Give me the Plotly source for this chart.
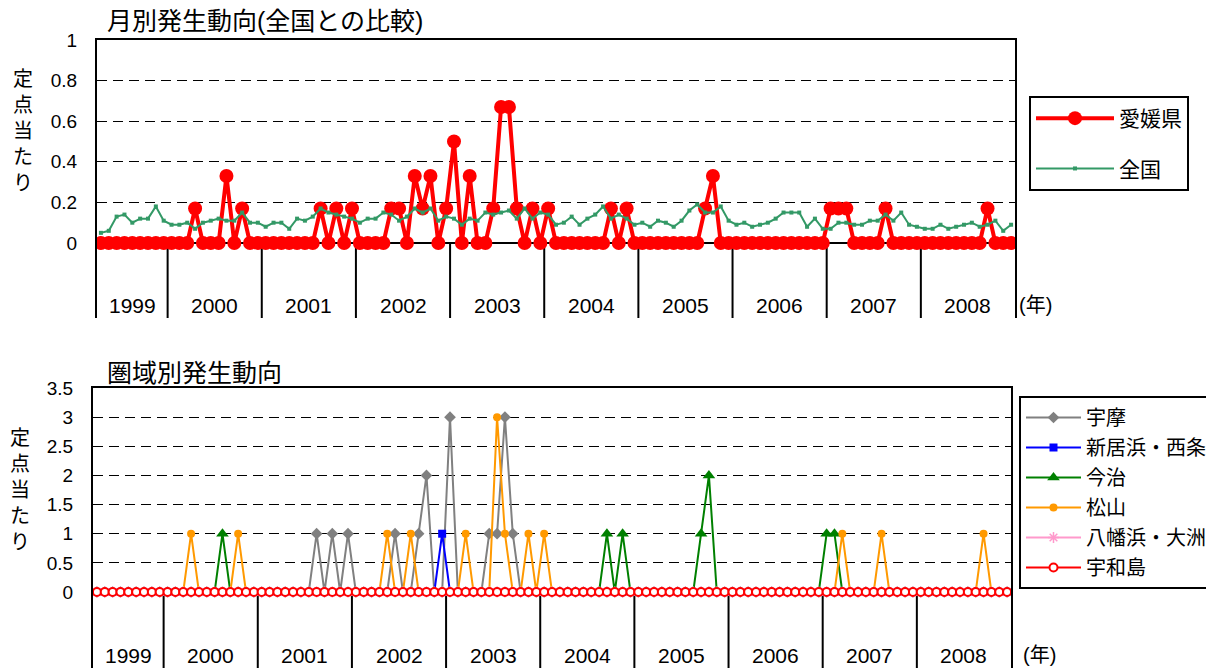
import plotly.graph_objects as go

W, H = 1214, 670
OX, OY = 8, 8   # page offset of the plot div inside the browser window
FONT = "Liberation Sans, Noto Sans CJK JP, sans-serif"

# ---- data (monthly, Apr 1999 .. Dec 2008) ----
years = [1999, 2000, 2001, 2002, 2003, 2004, 2005, 2006, 2007, 2008]
months_per_year = [9, 12, 12, 12, 12, 12, 12, 12, 12, 12]

ehime = [
    0, 0, 0, 0, 0, 0, 0, 0, 0,
    0, 0, 0, 0.17, 0, 0, 0, 0.33, 0, 0.17, 0, 0,
    0, 0, 0, 0, 0, 0, 0, 0.17, 0, 0.17, 0, 0.17,
    0, 0, 0, 0, 0.17, 0.17, 0, 0.33, 0.17, 0.33, 0, 0.17,
    0.5, 0, 0.33, 0, 0, 0.17, 0.67, 0.67, 0.17, 0, 0.17, 0,
    0.17, 0, 0, 0, 0, 0, 0, 0, 0.17, 0, 0.17, 0,
    0, 0, 0, 0, 0, 0, 0, 0, 0.17, 0.33, 0, 0,
    0, 0, 0, 0, 0, 0, 0, 0, 0, 0, 0, 0,
    0.17, 0.17, 0.17, 0, 0, 0, 0, 0.17, 0, 0, 0, 0,
    0, 0, 0, 0, 0, 0, 0, 0, 0.17, 0, 0, 0,
]

zenkoku = [
    0.05, 0.06, 0.13, 0.14, 0.10, 0.12, 0.12, 0.18, 0.11,
    0.09, 0.09, 0.10, 0.07, 0.10, 0.11, 0.12, 0.11, 0.11, 0.15, 0.10, 0.10,
    0.08, 0.10, 0.10, 0.07, 0.12, 0.11, 0.13, 0.17, 0.15, 0.14, 0.13, 0.12,
    0.10, 0.12, 0.12, 0.15, 0.14, 0.11, 0.13, 0.17, 0.15, 0.17, 0.11, 0.13,
    0.12, 0.09, 0.12, 0.11, 0.15, 0.14, 0.15, 0.16, 0.12, 0.17, 0.12, 0.15,
    0.14, 0.09, 0.10, 0.13, 0.09, 0.12, 0.14, 0.18, 0.12, 0.14, 0.12, 0.09,
    0.10, 0.08, 0.11, 0.10, 0.08, 0.11, 0.16, 0.19, 0.15, 0.15, 0.18, 0.11,
    0.09, 0.10, 0.08, 0.09, 0.10, 0.12, 0.15, 0.15, 0.15, 0.08, 0.12, 0.07,
    0.07, 0.10, 0.10, 0.09, 0.09, 0.11, 0.11, 0.14, 0.11, 0.15, 0.09, 0.08,
    0.07, 0.07, 0.09, 0.07, 0.08, 0.09, 0.10, 0.08, 0.09, 0.11, 0.06, 0.09,
]

uma = [
    0, 0, 0, 0, 0, 0, 0, 0, 0,
    0, 0, 0, 0, 0, 0, 0, 0, 0, 0, 0, 0,
    0, 0, 0, 0, 0, 0, 0, 1, 0, 1, 0, 1,
    0, 0, 0, 0, 0, 1, 0, 0, 1, 2, 0, 0,
    3, 0, 0, 0, 0, 1, 1, 3, 1, 0, 0, 0,
    0, 0, 0, 0, 0, 0, 0, 0, 0, 0, 0, 0,
    0, 0, 0, 0, 0, 0, 0, 0, 0, 0, 0, 0,
    0, 0, 0, 0, 0, 0, 0, 0, 0, 0, 0, 0,
    0, 0, 0, 0, 0, 0, 0, 0, 0, 0, 0, 0,
    0, 0, 0, 0, 0, 0, 0, 0, 0, 0, 0, 0,
]
niihama_saijo = [
    0, 0, 0, 0, 0, 0, 0, 0, 0,
    0, 0, 0, 0, 0, 0, 0, 0, 0, 0, 0, 0,
    0, 0, 0, 0, 0, 0, 0, 0, 0, 0, 0, 0,
    0, 0, 0, 0, 0, 0, 0, 0, 0, 0, 0, 1,
    0, 0, 0, 0, 0, 0, 0, 0, 0, 0, 0, 0,
    0, 0, 0, 0, 0, 0, 0, 0, 0, 0, 0, 0,
    0, 0, 0, 0, 0, 0, 0, 0, 0, 0, 0, 0,
    0, 0, 0, 0, 0, 0, 0, 0, 0, 0, 0, 0,
    0, 0, 0, 0, 0, 0, 0, 0, 0, 0, 0, 0,
    0, 0, 0, 0, 0, 0, 0, 0, 0, 0, 0, 0,
]
imabari = [
    0, 0, 0, 0, 0, 0, 0, 0, 0,
    0, 0, 0, 0, 0, 0, 0, 1, 0, 0, 0, 0,
    0, 0, 0, 0, 0, 0, 0, 0, 0, 0, 0, 0,
    0, 0, 0, 0, 0, 0, 0, 0, 0, 0, 0, 0,
    0, 0, 0, 0, 0, 0, 0, 0, 0, 0, 0, 0,
    0, 0, 0, 0, 0, 0, 0, 0, 1, 0, 1, 0,
    0, 0, 0, 0, 0, 0, 0, 0, 1, 2, 0, 0,
    0, 0, 0, 0, 0, 0, 0, 0, 0, 0, 0, 0,
    1, 1, 0, 0, 0, 0, 0, 0, 0, 0, 0, 0,
    0, 0, 0, 0, 0, 0, 0, 0, 0, 0, 0, 0,
]
matsuyama = [
    0, 0, 0, 0, 0, 0, 0, 0, 0,
    0, 0, 0, 1, 0, 0, 0, 0, 0, 1, 0, 0,
    0, 0, 0, 0, 0, 0, 0, 0, 0, 0, 0, 0,
    0, 0, 0, 0, 1, 0, 0, 1, 0, 0, 0, 0,
    0, 0, 1, 0, 0, 0, 3, 1, 0, 0, 1, 0,
    1, 0, 0, 0, 0, 0, 0, 0, 0, 0, 0, 0,
    0, 0, 0, 0, 0, 0, 0, 0, 0, 0, 0, 0,
    0, 0, 0, 0, 0, 0, 0, 0, 0, 0, 0, 0,
    0, 0, 1, 0, 0, 0, 0, 1, 0, 0, 0, 0,
    0, 0, 0, 0, 0, 0, 0, 0, 1, 0, 0, 0,
]
yawatahama_ozu = [
    0, 0, 0, 0, 0, 0, 0, 0, 0,
    0, 0, 0, 0, 0, 0, 0, 0, 0, 0, 0, 0,
    0, 0, 0, 0, 0, 0, 0, 0, 0, 0, 0, 0,
    0, 0, 0, 0, 0, 0, 0, 0, 0, 0, 0, 0,
    0, 0, 0, 0, 0, 0, 0, 0, 0, 0, 0, 0,
    0, 0, 0, 0, 0, 0, 0, 0, 0, 0, 0, 0,
    0, 0, 0, 0, 0, 0, 0, 0, 0, 0, 0, 0,
    0, 0, 0, 0, 0, 0, 0, 0, 0, 0, 0, 0,
    0, 0, 0, 0, 0, 0, 0, 0, 0, 0, 0, 0,
    0, 0, 0, 0, 0, 0, 0, 0, 0, 0, 0, 0,
]
uwajima = [
    0, 0, 0, 0, 0, 0, 0, 0, 0,
    0, 0, 0, 0, 0, 0, 0, 0, 0, 0, 0, 0,
    0, 0, 0, 0, 0, 0, 0, 0, 0, 0, 0, 0,
    0, 0, 0, 0, 0, 0, 0, 0, 0, 0, 0, 0,
    0, 0, 0, 0, 0, 0, 0, 0, 0, 0, 0, 0,
    0, 0, 0, 0, 0, 0, 0, 0, 0, 0, 0, 0,
    0, 0, 0, 0, 0, 0, 0, 0, 0, 0, 0, 0,
    0, 0, 0, 0, 0, 0, 0, 0, 0, 0, 0, 0,
    0, 0, 0, 0, 0, 0, 0, 0, 0, 0, 0, 0,
    0, 0, 0, 0, 0, 0, 0, 0, 0, 0, 0, 0,
]

top_ticks = [0, 0.2, 0.4, 0.6, 0.8, 1]
top_ticktext = ["0", "0.2", "0.4", "0.6", "0.8", "1"]
bot_ticks = [0, 0.5, 1, 1.5, 2, 2.5, 3, 3.5]
bot_ticktext = ["0", "0.5", "1", "1.5", "2", "2.5", "3", "3.5"]

n = len(ehime)
x = list(range(n))


def px(v):
    return (v - OX) / W


def py(v):
    return 1 - (v - OY) / H


# ---- figure ----
fig = go.Figure()

fig.add_trace(go.Scatter(
    x=x, y=ehime, name="愛媛県", mode="lines+markers",
    line=dict(color="#FF0000", width=4),
    marker=dict(symbol="circle", size=14, color="#FF0000"),
    xaxis="x", yaxis="y", legend="legend", legendgroup="a"))
fig.add_trace(go.Scatter(
    x=x, y=zenkoku, name="全国", mode="lines+markers",
    line=dict(color="#339966", width=2),
    marker=dict(symbol="square", size=4, color="#339966"),
    xaxis="x", yaxis="y", legend="legend", legendgroup="b"))

bottom = [
    ("宇摩", uma, "#808080", dict(symbol="diamond", size=9, color="#808080")),
    ("新居浜・西条", niihama_saijo, "#0000FF", dict(symbol="square", size=8, color="#0000FF")),
    ("今治", imabari, "#008000", dict(symbol="triangle-up", size=11, color="#008000")),
    ("松山", matsuyama, "#FF9900", dict(symbol="circle", size=8, color="#FF9900")),
    ("八幡浜・大洲", yawatahama_ozu, "#FF99CC",
     dict(symbol="asterisk-open", size=9, color="#FF99CC", line=dict(color="#FF99CC", width=1.5))),
    ("宇和島", uwajima, "#FF0000",
     dict(symbol="circle", size=8, color="white", line=dict(color="#FF0000", width=2))),
]
for i, (name, vals, col, mk) in enumerate(bottom):
    fig.add_trace(go.Scatter(
        x=x, y=vals, name=name, mode="lines+markers",
        line=dict(color=col, width=2), marker=mk,
        xaxis="x2", yaxis="y2", legend="legend2", legendgroup="g%d" % i))

# ---- geometry (reference pixels) ----
TOP = dict(x0=97, x1=1015, ytop=40, ybot=318, yzero=243)
BOT = dict(x0=93, x1=1011, ytop=388, ybot=668, yzero=592)

top_ymax = 1.0
top_ymin = -(TOP["ybot"] - TOP["yzero"]) / (TOP["yzero"] - TOP["ytop"]) * top_ymax
bot_ymax = 3.5
bot_ymin = -(BOT["ybot"] - BOT["yzero"]) / (BOT["yzero"] - BOT["ytop"]) * bot_ymax

grid_dash = "10px,6px"
common_y = dict(showline=True, mirror=True, linecolor="black", linewidth=2,
                showgrid=True, gridcolor="black", gridwidth=1, griddash=grid_dash,
                zeroline=False, ticks="", ticklabelstandoff=14, automargin=False,
                tickfont=dict(size=19, color="black", family=FONT), fixedrange=True)
common_x = dict(range=[-0.5, n - 0.5], side="top", showline=True, linecolor="black",
                linewidth=2, showgrid=False, zeroline=False, showticklabels=False,
                ticks="", fixedrange=True, automargin=False)

fig.update_layout(
    template="none",
    width=W, height=H,
    margin=dict(l=0, r=0, t=0, b=0, pad=0, autoexpand=False),
    paper_bgcolor="white", plot_bgcolor="white",
    font=dict(family=FONT, color="black"),
    xaxis=dict(domain=[px(TOP["x0"]), px(TOP["x1"])], anchor="y", **common_x),
    yaxis=dict(domain=[py(TOP["ybot"]), py(TOP["ytop"])], anchor="x",
               range=[top_ymin, top_ymax], tickvals=top_ticks, ticktext=top_ticktext, **common_y),
    xaxis2=dict(domain=[px(BOT["x0"]), px(BOT["x1"])], anchor="y2", **common_x),
    yaxis2=dict(domain=[py(BOT["ybot"]), py(BOT["ytop"])], anchor="x2",
                range=[bot_ymin, bot_ymax], tickvals=bot_ticks, ticktext=bot_ticktext, **common_y),
    legend=dict(x=px(1029), y=py(96), xanchor="left", yanchor="top",
                bordercolor="black", borderwidth=2, bgcolor="white",
                font=dict(size=21, family=FONT), tracegroupgap=20, itemwidth=78,
                traceorder="grouped"),
    legend2=dict(x=px(1019), y=py(396), xanchor="left", yanchor="top",
                 bordercolor="black", borderwidth=2, bgcolor="white",
                 font=dict(size=20, family=FONT), tracegroupgap=1, itemwidth=55,
                 traceorder="grouped"),
    showlegend=True,
)

# ---- year separators, zero lines, year labels ----
shapes = []
annotations = []
starts = []
s = 0
for m in months_per_year:
    starts.append(s)
    s += m
ends = starts[1:] + [n]

for xa, ya, ymin in (("x", "y", top_ymin), ("x2", "y2", bot_ymin)):
    shapes.append(dict(type="line", xref=xa, yref=ya, x0=-0.5, x1=n - 0.5, y0=0, y1=0,
                       line=dict(color="black", width=2), layer="below"))
    for st in starts[1:]:
        shapes.append(dict(type="line", xref=xa, yref=ya, x0=st - 0.5, x1=st - 0.5,
                           y0=ymin, y1=0, line=dict(color="black", width=2), layer="below"))

top_label_y = -(305 - TOP["yzero"]) / (TOP["yzero"] - TOP["ytop"]) * top_ymax
bot_label_y = -(655 - BOT["yzero"]) / (BOT["yzero"] - BOT["ytop"]) * bot_ymax
for yr, st, en in zip(years, starts, ends):
    cx = (st + en) / 2 - 0.5
    annotations.append(dict(x=cx, y=top_label_y, xref="x", yref="y", text=str(yr),
                            xanchor="center", yanchor="middle",
                            showarrow=False, font=dict(size=21)))
    annotations.append(dict(x=cx, y=bot_label_y, xref="x2", yref="y2", text=str(yr),
                            xanchor="center", yanchor="middle",
                            showarrow=False, font=dict(size=21)))

# (年) labels
annotations.append(dict(x=px(1017), y=py(305), xref="paper", yref="paper",
                        xanchor="left", yanchor="middle",
                        text="(年)", showarrow=False, font=dict(size=20)))
annotations.append(dict(x=px(1021), y=py(655), xref="paper", yref="paper",
                        xanchor="left", yanchor="middle",
                        text="(年)", showarrow=False, font=dict(size=20)))

# titles
annotations.append(dict(x=px(105), y=py(21), xref="paper", yref="paper",
                        xanchor="left", yanchor="middle",
                        text="月別発生動向(全国との比較)", showarrow=False,
                        font=dict(size=25)))
annotations.append(dict(x=px(105), y=py(373), xref="paper", yref="paper",
                        xanchor="left", yanchor="middle",
                        text="圏域別発生動向", showarrow=False,
                        font=dict(size=25)))

# vertical y-axis titles
vt = "<br>".join(list("定点当たり"))
annotations.append(dict(x=px(23), y=py(131), xref="paper", yref="paper",
                        xanchor="center", yanchor="middle",
                        text=vt, showarrow=False, font=dict(size=20)))
annotations.append(dict(x=px(20), y=py(490), xref="paper", yref="paper",
                        xanchor="center", yanchor="middle",
                        text=vt, showarrow=False, font=dict(size=20)))

fig.update_layout(shapes=shapes, annotations=annotations)

fig.write_html("out.html")
